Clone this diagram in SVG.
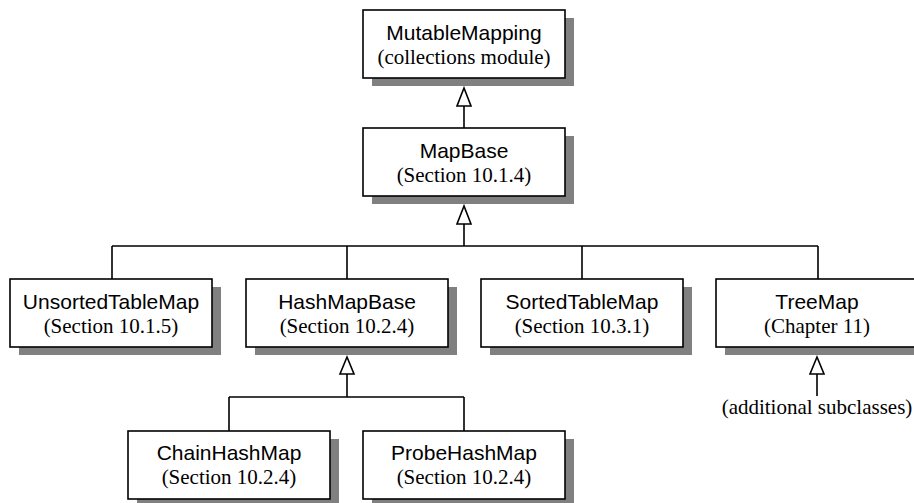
<svg xmlns="http://www.w3.org/2000/svg" width="914" height="503" viewBox="0 0 914 503">
<style>
.shadow{fill:#808080;stroke:none}
.box{fill:#fff;stroke:#000;stroke-width:1.6}
.t1{font-family:"Liberation Sans",Arial,sans-serif;font-size:21px;text-anchor:middle;fill:#000}
.t2{font-family:"Liberation Serif","Times New Roman",serif;font-size:21px;text-anchor:middle;fill:#000}
.ln{fill:none;stroke:#000;stroke-width:1.6}
.tri{fill:#fff;stroke:#000;stroke-width:1.6;stroke-linejoin:miter}
</style>
<rect width="914" height="503" fill="#fff"/>
<g id="connectors">
<path class="ln" d="M464 106V128"/>
<polygon class="tri" points="464,88 457,106 471,106"/>
<path class="ln" d="M464 224V246M112 246H818M112 246V279M347 246V279M582 246V279M818 246V279"/>
<polygon class="tri" points="464,206 457,224 471,224"/>
<path class="ln" d="M347 374V397M229 397H464M229 397V431M464 397V431"/>
<polygon class="tri" points="347,357 340,374 354,374"/>
<path class="ln" d="M817 374V396"/>
<polygon class="tri" points="817,357 810,374 824,374"/>
</g>
<g id="MutableMapping">
<rect class="shadow" x="372" y="18" width="202" height="68"/>
<rect class="box" x="363" y="10" width="202" height="68"/>
<text class="t1" x="464" y="40">MutableMapping</text>
<text class="t2" x="464" y="64">(collections module)</text>
</g>
<g id="MapBase">
<rect class="shadow" x="372" y="136" width="202" height="68"/>
<rect class="box" x="363" y="128" width="202" height="68"/>
<text class="t1" x="464" y="158">MapBase</text>
<text class="t2" x="464" y="182">(Section 10.1.4)</text>
</g>
<g id="UnsortedTableMap">
<rect class="shadow" x="19" y="287" width="202" height="68"/>
<rect class="box" x="10" y="279" width="202" height="68"/>
<text class="t1" x="111" y="309">UnsortedTableMap</text>
<text class="t2" x="111" y="333">(Section 10.1.5)</text>
</g>
<g id="HashMapBase">
<rect class="shadow" x="255" y="287" width="202" height="68"/>
<rect class="box" x="246" y="279" width="202" height="68"/>
<text class="t1" x="347" y="309">HashMapBase</text>
<text class="t2" x="347" y="333">(Section 10.2.4)</text>
</g>
<g id="SortedTableMap">
<rect class="shadow" x="490" y="287" width="202" height="68"/>
<rect class="box" x="481" y="279" width="202" height="68"/>
<text class="t1" x="582" y="309">SortedTableMap</text>
<text class="t2" x="582" y="333">(Section 10.3.1)</text>
</g>
<g id="TreeMap">
<rect class="shadow" x="725" y="287" width="202" height="68"/>
<rect class="box" x="716" y="279" width="202" height="68"/>
<text class="t1" x="817" y="309">TreeMap</text>
<text class="t2" x="817" y="333">(Chapter 11)</text>
</g>
<g id="additional">
<text class="t2" x="817" y="414">(additional subclasses)</text>
</g>
<g id="ChainHashMap">
<rect class="shadow" x="137" y="439" width="202" height="68"/>
<rect class="box" x="128" y="431" width="202" height="68"/>
<text class="t1" x="229" y="460">ChainHashMap</text>
<text class="t2" x="229" y="484">(Section 10.2.4)</text>
</g>
<g id="ProbeHashMap">
<rect class="shadow" x="372" y="439" width="202" height="68"/>
<rect class="box" x="363" y="431" width="202" height="68"/>
<text class="t1" x="464" y="460">ProbeHashMap</text>
<text class="t2" x="464" y="484">(Section 10.2.4)</text>
</g>
</svg>
